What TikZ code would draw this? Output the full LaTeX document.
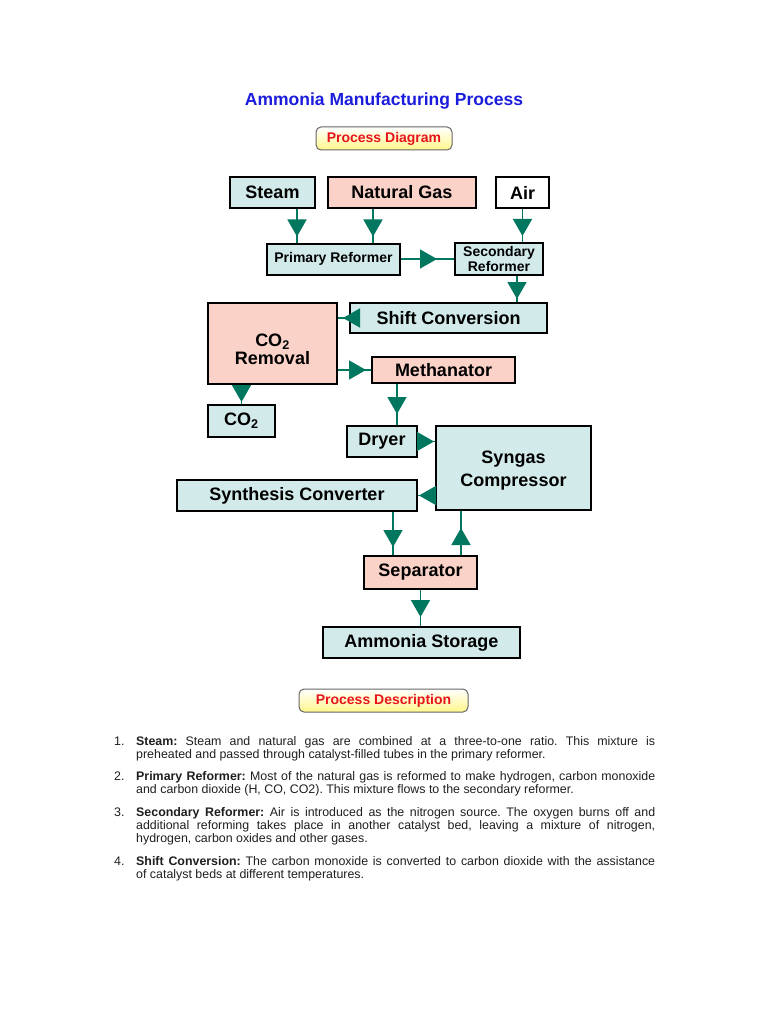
\documentclass[tikz,border=0pt]{standalone}
\usepackage{fontspec}
\setmainfont{Liberation Sans}
\usepackage{tikz}
\usetikzlibrary{positioning}
\usetikzlibrary{shapes}
\usetikzlibrary{arrows.meta}
\usetikzlibrary{decorations.markings}

\definecolor{boxcyan}{HTML}{D2EBEA}
\definecolor{boxpink}{HTML}{FAD2C7}
\definecolor{flowgreen}{HTML}{00775E}
\definecolor{titleblue}{HTML}{1C1CDC}
\definecolor{tagred}{HTML}{E8141C}
\definecolor{tagyellow}{HTML}{FFF78A}

\begin{document}
\frenchspacing
\begin{tikzpicture}[x=1pt, y=-1pt,
  box/.style = {draw=black, line width=2pt, inner sep=0pt, align=center,
                font=\bfseries\fontsize{18}{20}\selectfont},
  cyanbox/.style = {box, fill=boxcyan},
  pinkbox/.style = {box, fill=boxpink},
  whitebox/.style = {box, fill=white},
  boxlabel/.style = {inner sep=0pt, align=center, font=\bfseries\fontsize{18}{18}\selectfont},
  tag/.style = {draw=black!60, line width=1pt, rounded corners=5pt, inner sep=0pt,
                top color=white, bottom color=tagyellow, text=tagred,
                font=\bfseries\fontsize{14}{16}\selectfont},
  flow/.style = {draw=flowgreen, line width=1.5pt, postaction={decorate},
                 decoration={markings, mark=at position -#1 with {\arrow{Triangle[length=17pt, width=19pt]}}}},
  flow/.default = 6pt,
  item/.style = {anchor=base west, inner sep=0pt, text=black!88,
                 font=\fontsize{12.4}{13.3}\selectfont},
  itemtext/.style = {item, text width=519pt, align=justify}
]

\fill[white] (0,0) rectangle (768,1024);
\useasboundingbox (0,0) rectangle (768,1024);

% heading
\node[font=\bfseries\fontsize{17.5}{20}\selectfont, text=titleblue] (title) at (384,101) {Ammonia Manufacturing Process};
\node[tag, minimum width=136pt, minimum height=23pt] (diagram) at (384,138.5) {Process Diagram};

% feeds
\node[cyanbox, minimum width=85pt, minimum height=31pt] (steam) at (272.5,192.5) {Steam};
\node[pinkbox, minimum width=148pt, minimum height=31pt] (gas) at (402,192.5) {Natural Gas};
\node[whitebox, minimum width=53pt, minimum height=31pt] (air) at (522.5,192.5) {Air};

% reformers
\node[cyanbox, minimum width=133pt, minimum height=31pt, font=\bfseries\fontsize{14}{12}\selectfont] (primary) at (333.5,259) {Primary Reformer};
\node[cyanbox, minimum width=88pt, minimum height=32pt, font=\bfseries\fontsize{14}{11.5}\selectfont] (secondary) at (499,259) {Secondary\\Reformer};

% gas cleaning
\node[cyanbox, minimum width=197pt, minimum height=30pt] (shift) at (448.5,318) {Shift Conversion};
\node[pinkbox, minimum width=129pt, minimum height=81pt] (removal) at (272.5,343.5) {};
\node[boxlabel] (removaltext) at (272.5,349) {CO\textsubscript{2}\\Removal};
\node[pinkbox, minimum width=143pt, minimum height=26pt] (methanator) at (443.5,370) {Methanator};
\node[cyanbox, minimum width=67pt, minimum height=32pt] (co2) at (241.5,421) {CO\textsubscript{2}};

% synthesis loop
\node[cyanbox, minimum width=70pt, minimum height=31pt] (dryer) at (382,441.5) {Dryer};
\node[cyanbox, minimum width=155pt, minimum height=84pt] (compressor) at (513.5,468) {};
\node[boxlabel, font=\bfseries\fontsize{18}{23}\selectfont] (compressortext) at (513.5,471) {Syngas\\Compressor};
\node[cyanbox, minimum width=240pt, minimum height=31pt] (converter) at (297,495.5) {Synthesis Converter};
\node[pinkbox, minimum width=113pt, minimum height=33pt] (separator) at (420.5,572.5) {Separator};
\node[cyanbox, minimum width=197pt, minimum height=31pt] (storage) at (421.5,642.5) {Ammonia Storage};

% connectors
\draw[flow] ([xshift=24.5pt]steam.south) -- ([xshift=24.5pt]steam.south |- primary.north);
\draw[flow] ([xshift=-29pt]gas.south) -- ([xshift=-29pt]gas.south |- primary.north);
\draw[flow] (air.south) -- (air.south |- secondary.north);
\draw[flow=17pt] (primary.east) -- (primary.east -| secondary.west);
\draw[flow=3pt] ([xshift=18pt]secondary.south) -- ([xshift=18pt]secondary.south |- shift.north);
\draw[flow=5pt] (shift.west) -- (shift.west -| removal.east);
\draw[flow=5pt] (methanator.west -| removal.east) -- (methanator.west);
\draw[flow=2pt] (co2.north |- removal.south) -- (co2.north);
\draw[flow=11pt] ([xshift=15pt]dryer.north |- methanator.south) -- ([xshift=15pt]dryer.north);
\draw[flow=1pt] (dryer.east) -- (dryer.east -| compressor.west);
\draw[flow=1pt] (converter.east -| compressor.west) -- (converter.east);
\draw[flow=8pt] ([xshift=-27.5pt]separator.north |- converter.south) -- ([xshift=-27.5pt]separator.north);
\draw[flow=17pt] ([xshift=40.5pt]separator.north) -- ([xshift=40.5pt]separator.north |- compressor.south);
\draw[flow=9pt] (separator.south) -- (separator.south |- storage.north);

% description
\node[tag, minimum width=169pt, minimum height=23pt] (description) at (383.5,700.5) {Process Description};

\node[item] (num1) at (114,745) {1.};
\node[itemtext] (step1) at (136,745) {\textbf{Steam:} Steam and natural gas are combined at a three-to-one ratio. This mixture is\linebreak preheated and passed through catalyst-filled tubes in the primary reformer.};
\node[item] (num2) at (114,780) {2.};
\node[itemtext] (step2) at (136,780) {\textbf{Primary Reformer:} Most of the natural gas is reformed to make hydrogen, carbon monoxide\linebreak and carbon dioxide (H, CO, CO2). This mixture flows to the secondary reformer.};
\node[item] (num3) at (114,816) {3.};
\node[itemtext] (step3) at (136,816) {\textbf{Secondary Reformer:} Air is introduced as the nitrogen source. The oxygen burns off and\linebreak additional reforming takes place in another catalyst bed, leaving a mixture of nitrogen,\linebreak hydrogen, carbon oxides and other gases.};
\node[item] (num4) at (114,865) {4.};
\node[itemtext] (step4) at (136,865) {\textbf{Shift Conversion:} The carbon monoxide is converted to carbon dioxide with the assistance\linebreak of catalyst beds at different temperatures.};

\end{tikzpicture}
\end{document}
